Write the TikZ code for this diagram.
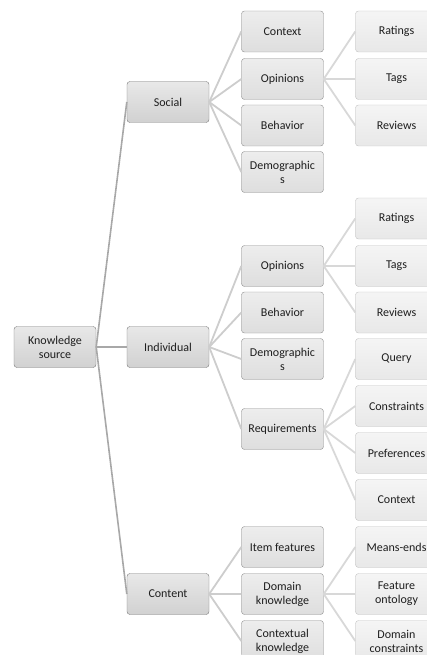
\documentclass[tikz,border=0pt]{standalone}
\usepackage{fontspec}
\setmainfont{Carlito}
\usetikzlibrary{positioning}
\definecolor{txtgray}{RGB}{30,30,30}
\definecolor{rootline}{RGB}{168,168,168}
\definecolor{subline}{RGB}{205,205,205}
\definecolor{leafline}{RGB}{216,216,216}

\begin{document}
\begin{tikzpicture}[
    x=1pt, y=-1pt,
    box/.style={rectangle, draw, rounded corners=3pt, minimum width=82pt, minimum height=41pt, align=center, text=txtgray, font=\fontsize{12}{14}\selectfont, inner sep=1pt},
    top/.style={box, draw=black!52, top color=black!9, bottom color=black!18},
    mid/.style={box, draw=black!44, top color=black!7, bottom color=black!13},
    leaf/.style={box, draw=black!24, top color=black!4, bottom color=black!9},
    rootedge/.style={draw=rootline, line width=1.6pt},
    subedge/.style={draw=subline, line width=1.8pt},
    leafedge/.style={draw=leafline, line width=1.8pt}
]
\clip (0,0) rectangle (427,655);

% Root
\node[top] (root) at (55,347) {Knowledge\\source};

% Sources
\node[top] (social) at (168,102) {Social};
\node[top] (indiv) at (168,347) {Individual};
\node[top] (content) at (168,594) {Content};

% Social
\node[mid] (socctx) at (282.5,31.5) {Context};
\node[mid] (socopin) at (282.5,79) {Opinions};
\node[mid] (socbehav) at (282.5,125.5) {Behavior};
\node[mid] (socdemo) at (282.5,172) {Demographic\\s};

\node[leaf] (socrate) at (396.5,31.5) {Ratings};
\node[leaf] (soctag) at (396.5,79) {Tags};
\node[leaf] (socrev) at (396.5,125.5) {Reviews};

% Individual
\node[mid] (indopin) at (282.5,266) {Opinions};
\node[mid] (indbehav) at (282.5,312.5) {Behavior};
\node[mid] (inddemo) at (282.5,359) {Demographic\\s};
\node[mid] (indreq) at (282.5,429) {Requirements};

\node[leaf] (indrate) at (396.5,218.5) {Ratings};
\node[leaf] (indtag) at (396.5,266) {Tags};
\node[leaf] (indrev) at (396.5,312.5) {Reviews};
\node[leaf] (reqquery) at (396.5,359) {Query};
\node[leaf] (reqcons) at (396.5,406) {Constraints};
\node[leaf] (reqpref) at (396.5,453) {Preferences};
\node[leaf] (reqctx) at (396.5,500) {Context};

% Content
\node[mid] (conitem) at (282.5,547) {Item features};
\node[mid] (condom) at (282.5,594) {Domain\\knowledge};
\node[mid] (conctx) at (282.5,641) {Contextual\\knowledge};

\node[leaf] (dommeans) at (396.5,547) {Means-ends};
\node[leaf] (domfeat) at (396.5,594) {Feature\\ontology};
\node[leaf] (domcons) at (396.5,641) {Domain\\constraints};

% Root to sources
\draw[rootedge] (root.east) -- (social.west);
\draw[rootedge] (root.east) -- (indiv.west);
\draw[rootedge] (root.east) -- (content.west);

% Sources to kinds
\draw[subedge] (social.east) -- (socctx.west);
\draw[subedge] (social.east) -- (socopin.west);
\draw[subedge] (social.east) -- (socbehav.west);
\draw[subedge] (social.east) -- (socdemo.west);
\draw[subedge] (indiv.east) -- (indopin.west);
\draw[subedge] (indiv.east) -- (indbehav.west);
\draw[subedge] (indiv.east) -- (inddemo.west);
\draw[subedge] (indiv.east) -- (indreq.west);
\draw[subedge] (content.east) -- (conitem.west);
\draw[subedge] (content.east) -- (condom.west);
\draw[subedge] (content.east) -- (conctx.west);

% Kinds to details
\draw[leafedge] (socopin.east) -- (socrate.west);
\draw[leafedge] (socopin.east) -- (soctag.west);
\draw[leafedge] (socopin.east) -- (socrev.west);
\draw[leafedge] (indopin.east) -- (indrate.west);
\draw[leafedge] (indopin.east) -- (indtag.west);
\draw[leafedge] (indopin.east) -- (indrev.west);
\draw[leafedge] (indreq.east) -- (reqquery.west);
\draw[leafedge] (indreq.east) -- (reqcons.west);
\draw[leafedge] (indreq.east) -- (reqpref.west);
\draw[leafedge] (indreq.east) -- (reqctx.west);
\draw[leafedge] (condom.east) -- (dommeans.west);
\draw[leafedge] (condom.east) -- (domfeat.west);
\draw[leafedge] (condom.east) -- (domcons.west);

\end{tikzpicture}
\end{document}
